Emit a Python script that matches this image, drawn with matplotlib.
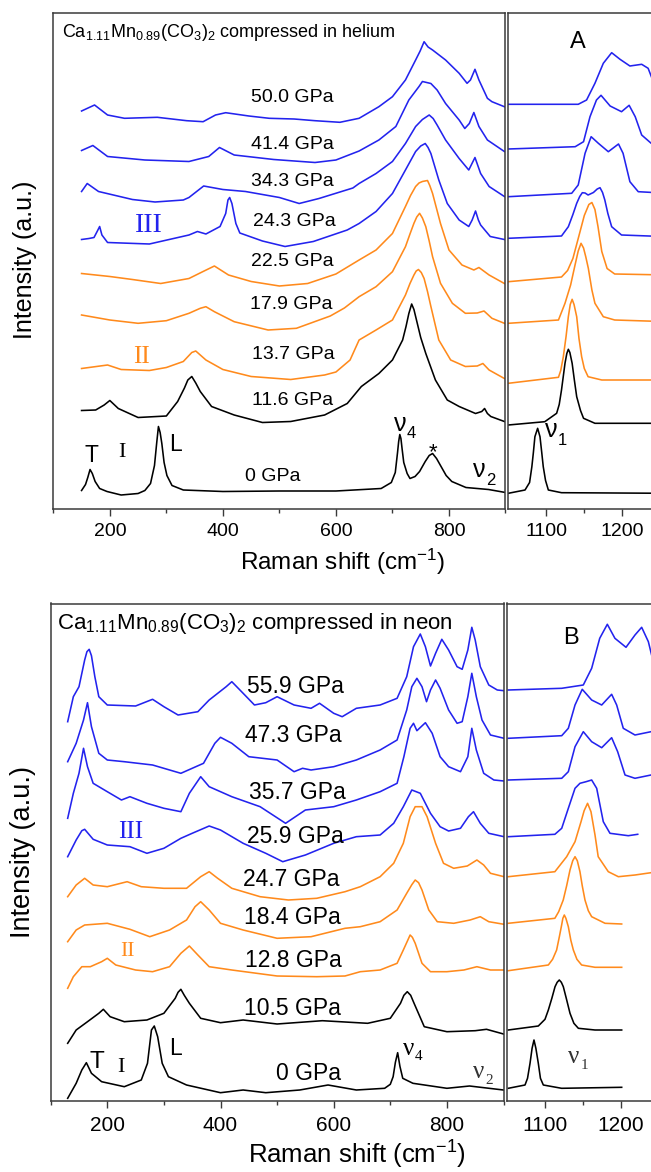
import matplotlib
matplotlib.use("Agg")
import matplotlib.pyplot as plt
import numpy as np

plt.rcParams['font.family'] = ['Liberation Sans', 'DejaVu Sans']
plt.rcParams['mathtext.fontset'] = 'custom'
plt.rcParams['mathtext.rm'] = 'Liberation Sans'
plt.rcParams['mathtext.it'] = 'Liberation Sans:italic'
plt.rcParams['mathtext.bf'] = 'Liberation Sans:bold'

# ===================== DATA: helium run (panel A) =====================
HE_LABELS = ["0 GPa", "11.6 GPa", "13.7 GPa", "17.9 GPa", "22.5 GPa",
             "24.3 GPa", "34.3 GPa", "41.4 GPa", "50.0 GPa"]
HE_PHASE = ["I", "I", "II", "II", "II", "III", "III", "III", "III"]
HE_OFFSETS = [18, 98, 140, 193.5, 235, 269, 317, 358, 397.5]

HE_0_LOW_X = [150,157,161,165,169,174,182,195,220,250,262,272,279,283,286,289,292,296,301,310,330,400,500,600,680,698,705,709,711,713,715,717,720,726,731,740,748,758,765,771,778,786,795,805,830,870,900]
HE_0_LOW_I = [0,6,13,21,17,9,2,-1,-4.5,-3,0,7,25,48,64,58,47,28,15,5,0.5,-1,-0.5,-0.5,2,8,18,38,49,56,52,42,28,17,12,14,19,29,35,37,32,24,15,9,3,1,-2]
HE_0_HIGH_X = [1050,1072,1078,1081,1083,1085,1088.6,1091.7,1094,1096,1099,1102.7,1120,1260]
HE_0_HIGH_I = [-2.8,0.5,8,23.8,38,53.8,62.2,53.8,38,23.8,10,0.5,-2.2,-2.8]

HE_11_LOW_X = [150,175,190,200,215,250,300,320,332,338,345,352,360,380,420,470,520,580,620,645,676,700,718,724,729,734,738,744,750,759,776,797,818,847,858,863,868,874,898]
HE_11_LOW_I = [0,0.5,5.5,10,2,-7,-5.5,9,22.5,30.5,34,27.5,19,4,-4.5,-12,-11,-4.5,7,24,37,50.5,70.5,84,97,106.5,101,87,73,57,30.5,10.5,4,-3,-1,2,-3,-6,-11]
HE_11_HIGH_X = [1050,1098,1113.6,1117,1120,1124.6,1127,1129,1131,1134,1137,1140,1145,1149,1164,1260]
HE_11_HIGH_I = [-14.5,-11.2,-2.8,6,20.5,47.2,57,61.2,58,47.2,30,13.8,0,-7.8,-12.8,-12.8]

HE_13_LOW_X = [150,196,220,270,300,330,345,352,370,400,450,520,580,600,625,641,671,700,723,731,738,742,746,751,756,762,768,782,803,829,850,860,871,898]
HE_13_LOW_I = [0,3.5,-1,-2,1,7,16,17.5,8.5,-1,-8,-11,-6.5,-3.5,8.5,28.5,38.5,48.5,73.5,85,93.5,97.5,99,96,90,77,62,28.5,8.5,2,2.5,5,-1.5,-10]
HE_13_HIGH_X = [1050,1116,1119,1122.4,1126,1129,1131.5,1134,1136.5,1140,1143,1146.5,1150,1155,1173,1260]
HE_13_HIGH_I = [-14.8,-8.8,-2,11.8,32,51.8,64,69.2,64,51.8,30,11.8,0,-8.2,-11.5,-11.5]

HE_17_LOW_X = [150,200,250,300,340,360,370,385,420,480,530,590,615,641,671,700,723,731,738,743,748,753,759,765,771,785,806,829,850,862,876,898]
HE_17_LOW_I = [0,-5,-8.3,-5.7,1.7,6.7,8.3,3.3,-6.7,-15,-13.3,-1,7,18.3,28.3,43.3,68.3,81,91.7,98,101.7,97,88.3,74,58.3,31.7,11.7,1.7,2,4,-3.3,-8.3]
HE_17_HIGH_X = [1050,1116,1124.6,1132,1137.8,1142,1145.7,1149,1152,1155.3,1160,1164,1175,1190,1260]
HE_17_HIGH_I = [-8.3,-5,11.7,30,50,64,71.7,67,58,46.7,25,11.7,-1.7,-5,-6.7]

HE_22_LOW_X = [150,200,240,290,340,365,385,410,450,500,550,600,641,671,700,723,732,741,747,753,762,766,771,785,800,823,844,853,871,898]
HE_22_LOW_I = [0,-3,-6,-10,-5,2,7.5,-1.5,-8,-12.5,-10,-0.5,13.5,23.5,40,67,78,87,90.5,92,93,88,80,50,23.5,8.5,3.5,6,-1.5,-10]
HE_22_HIGH_X = [1050,1120,1128,1135,1142,1150,1156,1160,1164,1168,1173,1180,1190,1260]
HE_22_HIGH_I = [-8.2,-3.5,3,15,35,58,69,71,64,47,22,5,-0.5,-1.5]

HE_24_LOW_X = [150,163,172,178,182,186,196,270,340,355,370,395,405,409,412,416,423,430,470,510,560,620,641,671,700,723,741,750,758,763,768,782,797,818,835,841,847,852,856,873,898]
HE_24_LOW_I = [0,1,2,8.5,13,4.5,-3,-4.5,4.5,8,5.5,13,26,39.5,42,36,16,6.5,-1.5,-7,-2,9.5,16,28,46,69.5,88,93.5,96,92,86,59.5,36,19.5,13,19.5,28.5,19.5,14.5,3,0]
HE_24_HIGH_X = [1050,1120,1129,1135,1140,1144,1147.4,1151,1155,1162,1167,1170.7,1174,1177,1181,1186,1199,1260]
HE_24_HIGH_I = [1.2,3.5,12.8,25,36.2,43,46.8,46.5,44.5,47,50.5,51.8,47,39.5,26,12.8,4.5,2.8]

HE_34_LOW_X = [150,160,180,240,280,330,340,366,400,440,500,535,570,630,641,671,700,723,741,753,765,772,779,794,818,835,846,856,871,898]
HE_34_LOW_I = [0,8,0,-8,-10.5,-8.5,-6,5.5,2,0,-6,-12,-7,3.5,8,18,30,48,65,72,76.5,73,66.5,51.5,33,21.5,34,18,5,-5]
HE_34_HIGH_X = [1050,1133.4,1142,1151,1159,1168.5,1181.6,1195,1201,1210,1221,1260]
HE_34_HIGH_I = [-5.2,-1.8,6.5,38.2,54.8,48.2,39.8,47.5,38.2,9.8,-0.2,-1.8]

HE_41_LOW_X = [150,170,196,262,340,375,394,420,490,563,600,641,676,706,729,747,753,768,779,794,818,828,836,844,853,868,898]
HE_41_LOW_I = [0,5,-6,-9.5,-11,-6,3,-4.5,-9,-12,-9.5,-0.5,10.5,24,50.5,64,69,67,60.5,47,30.5,22,27,38,24,10.5,-1]
HE_41_HIGH_X = [1050,1138,1149,1157.5,1166,1172,1184,1199,1209,1217,1225.5,1238,1260]
HE_41_HIGH_I = [1.5,3.8,8.8,33.8,50.5,55.2,44.5,38.8,45.2,33.8,15.5,7.2,3]

HE_50_LOW_X = [150,173,196,226,284,336,365,387,405,446,482,526,563,607,641,676,700,723,741,749,756,763,771,794,818,832,838,846,853,868,876,898]
HE_50_LOW_I = [0,6,-4,-7.3,-6.3,-9.7,-10.7,-4,-1.7,-5,-7.3,-8,-9.7,-11.3,-7.3,4.3,14.3,31,51,60,69.3,64,61,51,37.7,27.7,31,41.7,31,12.7,9.3,4.3]
HE_50_HIGH_X = [1050,1142,1153,1164,1175,1186,1197,1210,1225.5,1234,1245,1260]
HE_50_HIGH_I = [6.7,6.7,11,27.7,47.7,58.3,51.7,45,46.7,42.7,21,7]

# ===================== DATA: neon run (panel B) =====================
NE_LABELS = ["0 GPa", "10.5 GPa", "12.8 GPa", "18.4 GPa", "24.7 GPa",
             "25.9 GPa", "35.7 GPa", "47.3 GPa", "55.9 GPa"]
NE_PHASE = ["I", "I", "II", "II", "II", "III", "III", "III", "III"]
NE_OFFSETS = [2.7, 57.7, 112.7, 159.3, 204.3, 244.3, 282.7, 339.3, 379.3]

NE_0_LOW_X = [130,145,155,163,172,190,230,260,271,278,283,289,297,308,340,400,440,480,540,590,640,690,700,705,709,713,717,722,740,800,840,900]
NE_0_LOW_I = [0,15,28.3,35.6,25,16.6,11.6,18.3,35,68.3,72.3,61.6,35,21.6,13.3,5.6,8.3,5.6,8.3,13.3,8.3,10,14,21.6,36,45.6,32,20,15,10,12.3,8.3]
NE_0_HIGH_X = [1051.7,1073.7,1077,1080.3,1083,1085.5,1088,1091.2,1094,1097.8,1121.9,1200.9]
NE_0_HIGH_I = [10,13.3,20,35,50,58.3,50,35,20,13.3,10,11]

NE_10_LOW_X = [130,145,165,185,193,205,230,270,300,320,325,330,336,345,365,400,440,500,580,660,700,718,724,730,736,742,760,800,850,870,900]
NE_10_LOW_I = [0,13.3,21.6,30,34,26.6,21.6,23.3,30,45,51,54,48,40,25,20.6,23.3,19.3,22.6,20,25,40,48,51.6,48,40,16.6,11.6,12.6,14,9.3]
NE_10_HIGH_X = [1051.7,1091.2,1100,1104.4,1109,1113.2,1116,1118.8,1121.5,1124.1,1128,1132.9,1138,1143.9,1165.8,1200.9]
NE_10_HIGH_I = [13.3,17.3,24,33.3,45,56.6,61,63.3,61,56.6,45,30,20,15,13.3,13.3]

NE_12_LOW_X = [130,140,155,170,190,200,215,250,280,310,330,345,360,380,420,500,570,620,647,682,712,723,730,735,739,744,756,771,800,830,853,877,901]
NE_12_LOW_I = [0,11.6,21.6,21.6,26.6,30,23.3,18.3,16.6,21.6,35,42.3,33.3,21.6,18.3,12.3,11.6,12.3,16.6,18.3,25,38.3,47,53.3,51,45,25,16.6,16.6,18.3,21.6,18.3,18.3]
NE_12_HIGH_X = [1051.7,1104.4,1110,1115.3,1119,1121.9,1123.5,1125.4,1127.5,1130.7,1134,1137.3,1142,1148.2,1165.8,1200.9]
NE_12_HIGH_I = [17.6,23.3,29,38.3,52,63.3,70,73.3,70,61.6,48,38.3,29,23.3,21,21]

NE_18_LOW_X = [130,145,160,200,240,275,310,340,355,365,380,400,440,500,560,620,647,682,712,729,738,744,750,756,768,783,812,841,859,874,901]
NE_18_LOW_I = [0,11.7,16.7,18.4,12.4,5,11.7,21.7,35,40,31.7,18.4,11.7,3.4,5,13.4,15,20,31.7,48.4,57,61.7,59,51.7,31.7,20,18.4,21.7,25,20,17.4]
NE_18_HIGH_X = [1051.7,1113,1118,1124,1128.5,1132.9,1136.5,1139.5,1142.5,1146,1149,1152.6,1157,1161.4,1179,1200.9]
NE_18_HIGH_I = [18.4,23.4,30,41.7,56,71.7,81,85,81,70,56,41.7,31,25,18.4,17.7]

NE_24_LOW_X = [130,145,160,175,200,235,260,300,340,365,380,395,420,470,520,570,620,647,682,706,723,735,744,756,765,780,794,812,836,853,865,877,901]
NE_24_LOW_I = [0,11.7,18.4,11.7,10,15,10,8.4,8.4,20,25,18.4,8.4,0,-3.3,-1.6,5,10,20,33.4,53.4,80,90,90,80,53.4,33.4,28.4,30.7,36.7,31.7,23.4,20]
NE_24_HIGH_X = [1051.7,1113,1128.5,1139.5,1147.4,1151.5,1156,1160.5,1165.8,1170,1183.3,1196.5,1218.4,1239.5,1260]
NE_24_HIGH_I = [20,25,40,55,75,86,93.4,85,61.7,40,25,20,21.7,24,26]

NE_25_LOW_X = [130,145,155,160,175,200,240,270,300,330,350,380,400,440,480,510,550,600,640,682,706,723,738,753,771,788,803,824,838,847,859,874,901]
NE_25_LOW_I = [0,16.7,26,27.4,17.4,11.7,10,3.4,8.4,18.4,23.4,30.7,26.7,13.4,3.4,-5,1.7,13.4,20,21.7,33.4,50,66.7,63.4,43.4,30,25.7,28.4,40,45,33.4,23.4,20]
NE_25_HIGH_X = [1051.7,1113,1122,1130.7,1139.5,1146,1154,1161.4,1168,1176.7,1185.5,1209.6,1222]
NE_25_HIGH_I = [20,22.4,28.4,48.4,68.4,73.4,75,76.7,68.4,35,23.4,21,22.4]

NE_35_LOW_X = [130,140,150,158,165,175,200,225,240,270,300,330,345,365,380,420,470,515,550,600,640,682,712,724,735,741,747,762,774,788,803,824,837,844,852,865,883,901]
NE_35_LOW_I = [0,25,45,70,51.6,35,26.6,18.3,21.6,15,10,6.6,25,41.6,31.6,21.6,11.6,-5,8.3,11.6,18.3,26.6,35,61.6,90,95,87.6,95.6,85,61.6,51.6,46.6,61.6,90,68.3,45,38.3,37.3]
NE_35_HIGH_X = [1051.7,1122,1130.7,1139.5,1150.4,1161.4,1174.6,1187.7,1195.6,1205.3,1218.4,1239.5,1260]
NE_35_HIGH_I = [38.3,40,46.6,71.6,86.6,76.6,70.6,80.6,66.6,43.3,40,43.3,45]

NE_47_LOW_X = [130,145,158,165,172,185,200,230,280,330,370,390,400,420,450,500,530,545,560,600,640,682,712,729,738,747,756,764,771,780,788,803,818,827,837,844,852,862,877,901]
NE_47_LOW_I = [0,18.4,41.7,59,35,8.4,1.7,0,-3.3,-11.6,-1.6,18.4,24.4,18.4,5,1.7,-10,-6.6,-8.3,-5,1.7,11.7,21.7,51.7,75,83.4,75,60,71.7,81.7,73.4,51.7,38.4,40,65,88.4,65,41.7,26.7,23.4]
NE_47_HIGH_X = [1051.7,1122,1130.7,1139.5,1149,1161.4,1174.6,1187.7,1194.3,1203,1218.4,1239.5,1260]
NE_47_HIGH_I = [23.4,26,33.4,56.7,72.4,61.7,56.7,67.4,56.7,33.4,26.7,30,31]

NE_55_LOW_X = [130,140,150,160,164,168,172,178,185,200,250,280,300,325,360,380,410,420,440,460,480,500,530,560,575,600,615,640,682,712,729,741,753,762,771,780,791,803,818,827,837,844,850,859,874,889,901]
NE_55_LOW_I = [0,25,35,61.7,70,72.4,66,45,25,16.7,15.7,22.4,15,6.7,10,21.7,35,40,28.4,16.7,19,25,16.7,13.4,18.4,8.4,5,13.4,16.7,23.4,45,75,87.7,75,55.7,68.4,82.4,71.7,55,52.4,71.7,94.4,81.7,55,36.7,31.7,31]
NE_55_HIGH_X = [1051.7,1122,1150.4,1161.4,1172,1182,1192,1206.6,1218.4,1227.2,1236,1245,1260]
NE_55_HIGH_I = [31.7,33.4,36.7,53.4,83.4,97.4,83.4,74.4,86.7,94.4,80,52,35]

LOW_TICKS = [200, 400, 600, 800]
LOW_MINOR = [100, 300, 500, 700, 900]
HIGH_TICKS = [1100, 1200]
HIGH_MINOR = [1150, 1250]

HE_LOW = [(HE_0_LOW_X, HE_0_LOW_I), (HE_11_LOW_X, HE_11_LOW_I), (HE_13_LOW_X, HE_13_LOW_I),
          (HE_17_LOW_X, HE_17_LOW_I), (HE_22_LOW_X, HE_22_LOW_I), (HE_24_LOW_X, HE_24_LOW_I),
          (HE_34_LOW_X, HE_34_LOW_I), (HE_41_LOW_X, HE_41_LOW_I), (HE_50_LOW_X, HE_50_LOW_I)]
HE_HIGH = [(HE_0_HIGH_X, HE_0_HIGH_I), (HE_11_HIGH_X, HE_11_HIGH_I), (HE_13_HIGH_X, HE_13_HIGH_I),
           (HE_17_HIGH_X, HE_17_HIGH_I), (HE_22_HIGH_X, HE_22_HIGH_I), (HE_24_HIGH_X, HE_24_HIGH_I),
           (HE_34_HIGH_X, HE_34_HIGH_I), (HE_41_HIGH_X, HE_41_HIGH_I), (HE_50_HIGH_X, HE_50_HIGH_I)]
NE_LOW = [(NE_0_LOW_X, NE_0_LOW_I), (NE_10_LOW_X, NE_10_LOW_I), (NE_12_LOW_X, NE_12_LOW_I),
          (NE_18_LOW_X, NE_18_LOW_I), (NE_24_LOW_X, NE_24_LOW_I), (NE_25_LOW_X, NE_25_LOW_I),
          (NE_35_LOW_X, NE_35_LOW_I), (NE_47_LOW_X, NE_47_LOW_I), (NE_55_LOW_X, NE_55_LOW_I)]
NE_HIGH = [(NE_0_HIGH_X, NE_0_HIGH_I), (NE_10_HIGH_X, NE_10_HIGH_I), (NE_12_HIGH_X, NE_12_HIGH_I),
           (NE_18_HIGH_X, NE_18_HIGH_I), (NE_24_HIGH_X, NE_24_HIGH_I), (NE_25_HIGH_X, NE_25_HIGH_I),
           (NE_35_HIGH_X, NE_35_HIGH_I), (NE_47_HIGH_X, NE_47_HIGH_I), (NE_55_HIGH_X, NE_55_HIGH_I)]

# ===================== STYLE / LAYOUT =====================
PHASE_COLOR = {"I": "#000000", "II": "#ff8a1c", "III": "#2323ee"}
SPINE = "#3a3a3a"
W, H = 651, 1172

fig = plt.figure(figsize=(W / 100, H / 100), dpi=100)
fig.patch.set_facecolor("white")


def rect(x0, y0, x1, y1):
    return [x0 / W, 1 - y1 / H, (x1 - x0) / W, (y1 - y0) / H]


def ftext(x, y, s, **kw):
    fig.text(x / W, 1 - y / H, s, **kw)


def style(ax, lo, hi, ymax, major, minor, fs, pad, right_open=False):
    ax.set_xlim(lo, hi)
    ax.set_ylim(0, ymax)
    ax.set_yticks([])
    ax.set_xticks(major)
    ax.set_xticks(minor, minor=True)
    ax.tick_params(axis="x", which="major", direction="out", length=5, width=1.0,
                   color=SPINE, labelsize=fs, pad=pad)
    ax.tick_params(axis="x", which="minor", direction="out", length=3, width=1.0, color=SPINE)
    for s in ax.spines.values():
        s.set_linewidth(1.1)
        s.set_color(SPINE)
    if right_open:
        ax.spines["right"].set_visible(False)


def draw(ax, spectra, offsets, phases):
    for (x, inten), off, ph in zip(spectra, offsets, phases):
        ax.plot(np.asarray(x), off + np.asarray(inten), color=PHASE_COLOR[ph], lw=1.15,
                solid_joinstyle="round")


# ---- panel A (helium) ----
axA = fig.add_axes(rect(53.3, 12.7, 505.5, 508.5))
axA2 = fig.add_axes(rect(508.3, 12.7, 508.3 + 0.76 * 210, 508.5))
style(axA, 100, 900, 495.8, LOW_TICKS, LOW_MINOR, 14, 5.5)
style(axA2, 1050, 1260, 495.8, HIGH_TICKS, HIGH_MINOR, 14, 5.5, right_open=True)
draw(axA, HE_LOW, HE_OFFSETS, HE_PHASE)
draw(axA2, HE_HIGH, HE_OFFSETS, HE_PHASE)

# ---- panel B (neon) ----
axB = fig.add_axes(rect(50.7, 603.5, 503.5, 1101))
axB2 = fig.add_axes(rect(507, 603.5, 507 + 0.76 * 210, 1101))
style(axB, 100, 900, 497.5, LOW_TICKS, LOW_MINOR, 15, 5.5)
style(axB2, 1050, 1260, 497.5, HIGH_TICKS, HIGH_MINOR, 15, 5.5, right_open=True)
draw(axB, NE_LOW, NE_OFFSETS, NE_PHASE)
draw(axB2, NE_HIGH, NE_OFFSETS, NE_PHASE)

# ---- titles ----
ftext(62.3, 37.3, r"Ca$_{1.11}$Mn$_{0.89}$(CO$_3$)$_2$ compressed in helium",
      fontsize=13, ha="left", va="baseline")
ftext(57.3, 629.3, r"Ca$_{1.11}$Mn$_{0.89}$(CO$_3$)$_2$ compressed in neon",
      fontsize=16, ha="left", va="baseline")
ftext(578, 48.3, "A", fontsize=17, ha="center", va="baseline")
ftext(571, 644.3, "B", fontsize=17, ha="center", va="baseline")

# ---- axis labels ----
ftext(342.3, 570, r"Raman shift (cm$^{-1}$)", fontsize=17.5, ha="center", va="baseline")
ftext(357, 1163.3, r"Raman shift (cm$^{-1}$)", fontsize=18.5, ha="center", va="baseline")
ftext(25, 260, "Intensity (a.u.)", fontsize=18, rotation=90, ha="center", va="center")
ftext(23, 851.5, "Intensity (a.u.)", fontsize=19.5, rotation=90, ha="center", va="center")

# ---- pressure labels ----
HE_LABEL_POS = [(272.3, 480.7), (293, 405.3), (293, 359.3), (291.5, 309.3), (291.9, 266.3),
                (294.8, 226.3), (291.9, 186), (292, 149.3), (291.9, 101.7)]
for lab, (px, py) in zip(HE_LABELS, HE_LABEL_POS):
    ftext(px, py, lab, fontsize=14, ha="center", va="baseline")
NE_LABEL_POS = [(308.3, 1080), (292.7, 1015), (293.7, 966.7), (292.3, 924), (291.2, 886),
                (295.8, 842.7), (296.9, 799.3), (293.7, 742.3), (295.4, 693.3)]
for lab, (px, py) in zip(NE_LABELS, NE_LABEL_POS):
    ftext(px, py, lab, fontsize=16.5, ha="center", va="baseline")

SERIF = ["Liberation Serif", "DejaVu Serif"]
# ---- phase / mode annotations, panel A ----
ftext(148.5, 231.7, "III", fontsize=20, family=SERIF, color=PHASE_COLOR["III"], ha="center", va="baseline")
ftext(141, 363.3, "II", fontsize=18, family=SERIF, color=PHASE_COLOR["II"], ha="center", va="baseline")
ftext(121.5, 456.7, "I", fontsize=16, family=SERIF, ha="center", va="baseline")
ftext(91, 461.7, "T", fontsize=16.5, ha="center", va="baseline")
ftext(175.5, 450.7, "L", fontsize=16.5, ha="center", va="baseline")
ftext(433, 458, "*", fontsize=16, ha="center", va="baseline")
for (px, py, sub) in [(394, 430.5, "4"), (473, 477, "2"), (545, 436.7, "1")]:
    ftext(px, py, "ν", fontsize=18, ha="left", va="baseline")
    ftext(px + 13, py + 8, sub, fontsize=12, ha="left", va="baseline")

# ---- phase / mode annotations, panel B ----
ftext(131, 838.3, "III", fontsize=18, family=SERIF, color=PHASE_COLOR["III"], ha="center", va="baseline")
ftext(127.5, 956, "II", fontsize=15.5, family=SERIF, color=PHASE_COLOR["II"], ha="center", va="baseline")
ftext(121, 1071.7, "I", fontsize=16, family=SERIF, ha="center", va="baseline")
ftext(96.7, 1068.3, "T", fontsize=17.5, ha="center", va="baseline")
ftext(175.3, 1055, "L", fontsize=16.5, ha="center", va="baseline")
for (px, py, sub, col) in [(402.7, 1055, "4", "#000000"), (473, 1078, "2", "#333333"),
                           (568.3, 1063.3, "1", "#333333")]:
    ftext(px, py, "ν", fontsize=18, family=SERIF, color=col, ha="left", va="baseline")
    ftext(px + 12.5, py + 5.5, sub, fontsize=11, family=SERIF, color=col, ha="left", va="baseline")

fig.savefig("out.png", dpi=100, facecolor="white")
